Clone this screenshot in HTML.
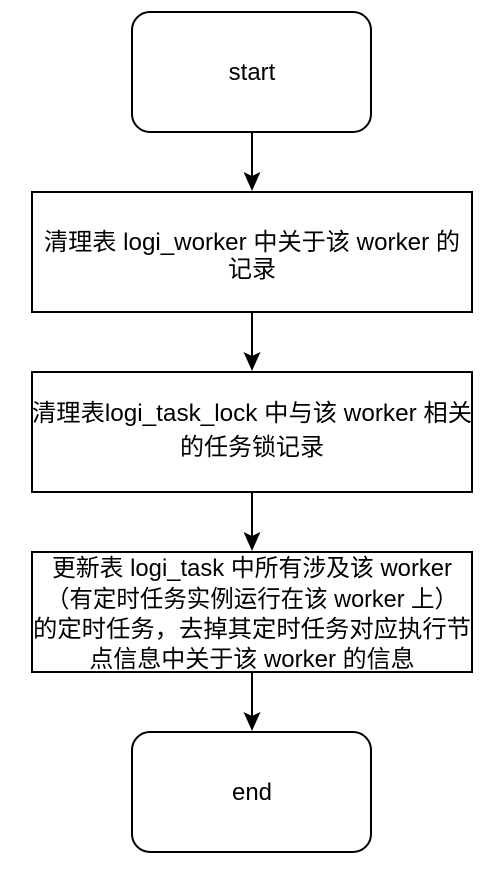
<!DOCTYPE html>
<html><head><meta charset="utf-8"><style>
html,body{margin:0;padding:0;background:#fff;}
svg text{font-family:"Liberation Sans","Noto Sans CJK SC",sans-serif;font-size:24px;fill:#000;text-anchor:middle;}
</style></head><body>
<svg width="494" height="874" viewBox="0 0 494 874" xmlns="http://www.w3.org/2000/svg">
<g stroke="#000" stroke-width="2" fill="#fff">
<rect x="132" y="12" width="239" height="120" rx="18"/>
<rect x="32" y="192" width="440" height="120"/>
<rect x="32" y="372" width="440" height="120"/>
<rect x="32" y="552" width="440" height="120"/>
<rect x="132" y="732" width="239" height="120" rx="18"/>
<line x1="252" y1="132" x2="252" y2="176"/>
<line x1="252" y1="312" x2="252" y2="356"/>
<line x1="252" y1="492" x2="252" y2="536"/>
<line x1="252" y1="672" x2="252" y2="716"/>
</g>
<g fill="#000">
<path d="M243.5,172 L252,191 L260.5,172 L252,176 Z"/>
<path d="M243.5,352 L252,371 L260.5,352 L252,356 Z"/>
<path d="M243.5,532 L252,551 L260.5,532 L252,536 Z"/>
<path d="M243.5,712 L252,731 L260.5,712 L252,716 Z"/>
</g>
<text x="252" y="80">start</text>
<text x="252" y="250" textLength="416" lengthAdjust="spacingAndGlyphs">清理表 logi_worker 中关于该 worker 的</text>
<text x="252" y="277">记录</text>
<text x="252" y="421" textLength="440" lengthAdjust="spacingAndGlyphs">清理表logi_task_lock 中与该 worker 相关</text>
<text x="252" y="455">的任务锁记录</text>
<text x="252" y="576" textLength="400" lengthAdjust="spacingAndGlyphs">更新表 logi_task 中所有涉及该 worker</text>
<text x="252" y="607" textLength="412" lengthAdjust="spacingAndGlyphs">（有定时任务实例运行在该 worker 上）</text>
<text x="252" y="637" textLength="438" lengthAdjust="spacingAndGlyphs">的定时任务，去掉其定时任务对应执行节</text>
<text x="252" y="667">点信息中关于该 worker 的信息</text>
<text x="252" y="800">end</text>
</svg>
</body></html>
